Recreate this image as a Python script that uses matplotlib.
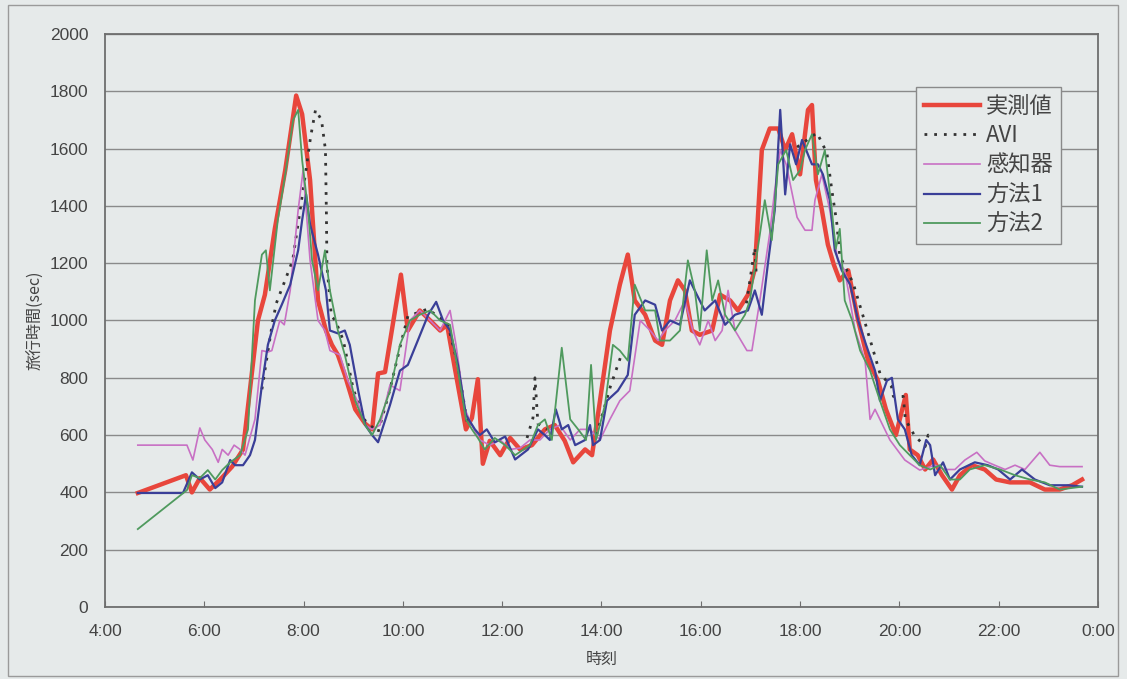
import numpy as np
import matplotlib
matplotlib.use("Agg")
import matplotlib.pyplot as plt
from matplotlib.patches import Rectangle

plt.rcParams['font.family'] = ['Liberation Sans', 'Noto Sans CJK JP', 'DejaVu Sans']

# time of day in hours, travel time in seconds
red_t = [4.66, 5.63, 5.75, 5.91, 6.11, 6.32, 6.56, 6.78, 6.92, 7.08, 7.22, 7.42, 7.63, 7.85, 7.97,
         8.13, 8.29, 8.45, 8.57, 8.69, 8.83, 9.04, 9.24, 9.38, 9.50, 9.64, 9.96, 10.10, 10.34, 10.55,
         10.75, 10.89, 11.05, 11.27, 11.39, 11.51, 11.61, 11.75, 11.96, 12.16, 12.36, 12.60, 12.86,
         13.06, 13.26, 13.43, 13.67, 13.81, 13.97, 14.17, 14.37, 14.53, 14.67, 14.88, 15.08, 15.22,
         15.38, 15.54, 15.68, 15.82, 15.98, 16.23, 16.39, 16.59, 16.75, 16.95, 17.09, 17.23, 17.39,
         17.56, 17.70, 17.84, 18.00, 18.16, 18.24, 18.32, 18.44, 18.56, 18.68, 18.80, 18.97, 19.17,
         19.37, 19.57, 19.73, 19.93, 20.13, 20.21, 20.37, 20.52, 20.68, 20.86, 21.06, 21.22, 21.46,
         21.72, 21.95, 22.23, 22.63, 22.93, 23.23, 23.48, 23.68]
red_v = [398, 460, 400, 450, 410, 445, 490, 550, 760, 1000, 1090, 1320, 1525, 1785, 1720,
         1490, 1070, 965, 915, 880, 810, 690, 640, 620, 815, 820, 1160, 965, 1035, 1000,
         965, 985, 830, 620, 660, 795, 500, 580, 530, 590, 550, 565, 620,
         635, 580, 505, 550, 530, 720, 965, 1125, 1230, 1070, 1020, 930, 915,
         1070, 1140, 1105, 965, 950, 965, 1090, 1070, 1035, 1090, 1180, 1595, 1670,
         1670, 1595, 1650, 1510, 1735, 1752, 1490, 1385, 1265, 1195, 1140, 1175, 1000,
         860, 790, 690, 600, 740, 550, 530, 480, 515, 460, 410, 460, 495,
         480, 445, 435, 435, 410, 410, 425, 445]

avi_t = [7.16, 7.38, 7.45, 7.78, 8.04, 8.14, 8.24, 8.36, 8.44, 8.46, 8.47, 8.56, 8.64, 8.80, 9.00,
         9.24, 9.50, 9.74, 9.96, 10.10, 10.50, 10.90, 11.10, 11.30, 11.31,
         12.50, 12.62, 12.66, 12.72, 12.90, 12.91,
         13.90, 14.18, 14.40, 14.41,
         16.92, 17.09, 17.12, 17.13,
         17.94, 18.14, 18.34, 18.54, 18.64, 18.74, 18.80, 19.07, 19.27, 19.45, 19.61, 19.84,
         19.88, 20.08, 20.12, 20.30, 20.52, 20.58, 20.64]
avi_v = [760, 1000, 1060, 1210, 1515, 1640, 1735, 1700, 1595, 1360, 1190, 1015, 1000, 930, 760,
         650, 610, 760, 920, 1015, 1040, 990, 850, 640, np.nan,
         590, 660, 800, 640, 620, np.nan,
         600, 770, 880, np.nan,
         1060, 1255, 1150, np.nan,
         1605, 1630, 1655, 1585, 1455, 1340, 1225, 1130, 1015, 910, 815, 770,
         735, 735, 655, 600, 560, 600, 595]

det_t = [4.66, 5.65, 5.77, 5.91, 6.01, 6.16, 6.28, 6.36, 6.48, 6.60, 6.72, 6.82, 7.02, 7.16, 7.28,
         7.36, 7.52, 7.61, 7.73, 7.89, 7.99, 8.13, 8.29, 8.43, 8.53, 8.73, 8.89, 9.08, 9.24, 9.38,
         9.54, 9.74, 9.94, 10.14, 10.34, 10.55, 10.75, 10.95, 11.07, 11.25, 11.39, 11.55, 11.75,
         11.96, 12.16, 12.36, 12.56, 12.76, 12.96, 13.16, 13.37, 13.57, 13.77, 13.97, 14.17, 14.37,
         14.57, 14.78, 14.98, 15.14, 15.28, 15.48, 15.68, 15.84, 15.98, 16.15, 16.29, 16.43, 16.55,
         16.69, 16.93, 17.03, 17.19, 17.39, 17.49, 17.60, 17.72, 17.94, 18.10, 18.24, 18.30, 18.44,
         18.60, 18.76, 18.90, 19.11, 19.31, 19.41, 19.51, 19.81, 20.11, 20.41, 20.72, 20.92, 21.12,
         21.32, 21.56, 21.72, 21.92, 22.13, 22.33, 22.53, 22.83, 23.03, 23.23, 23.68]
det_v = [565, 565, 513, 625, 583, 550, 505, 550, 530, 565, 550, 530, 655, 895, 890,
         895, 1000, 985, 1105, 1385, 1525, 1210, 1000, 965, 895, 880, 790, 720, 635, 620,
         635, 775, 755, 1000, 1035, 1000, 965, 1035, 915, 690, 635, 583, 565,
         583, 550, 555, 583, 583, 620, 635, 583, 620, 620, 583, 655, 720,
         755, 1000, 965, 930, 965, 1000, 1070, 965, 915, 1000, 930, 965, 1105,
         965, 895, 895, 1070, 1305, 1455, 1595, 1545, 1360, 1315, 1315, 1420, 1510,
         1385, 1210, 1175, 965, 860, 655, 690, 583, 513, 478, 495, 480, 480,
         513, 540, 510, 495, 480, 495, 480, 540, 495, 490, 490]

m1_t = [4.66, 5.57, 5.75, 5.91, 6.07, 6.22, 6.36, 6.52, 6.62, 6.78, 6.92, 7.02, 7.16, 7.28, 7.42,
        7.56, 7.73, 7.89, 7.97, 8.05, 8.13, 8.29, 8.45, 8.53, 8.69, 8.83, 8.93, 9.10, 9.24, 9.38,
        9.50, 9.74, 9.94, 10.10, 10.30, 10.51, 10.67, 10.81, 10.95, 11.11, 11.27, 11.45, 11.55,
        11.69, 11.85, 12.06, 12.26, 12.52, 12.72, 12.86, 12.96, 13.08, 13.20, 13.33, 13.47, 13.67,
        13.77, 13.83, 13.97, 14.11, 14.33, 14.53, 14.67, 14.88, 15.08, 15.22, 15.38, 15.58, 15.78,
        15.92, 16.08, 16.29, 16.49, 16.69, 16.95, 17.09, 17.23, 17.35, 17.49, 17.60, 17.70, 17.80,
        17.92, 18.04, 18.24, 18.36, 18.46, 18.60, 18.70, 18.84, 19.01, 19.17, 19.33, 19.51, 19.61,
        19.75, 19.85, 19.97, 20.11, 20.25, 20.41, 20.54, 20.62, 20.72, 20.88, 21.02, 21.22, 21.52,
        21.78, 21.99, 22.23, 22.47, 22.73, 23.03, 23.40, 23.68]
m1_v = [398, 398, 470, 445, 460, 415, 435, 513, 495, 495, 530, 583, 775, 915, 1000,
        1055, 1125, 1245, 1350, 1440, 1335, 1230, 1105, 965, 955, 965, 915, 755, 635, 600,
        575, 705, 825, 845, 930, 1020, 1065, 1000, 965, 845, 670, 620, 600,
        620, 575, 595, 515, 550, 620, 600, 583, 690, 620, 635, 565, 583,
        635, 565, 583, 720, 755, 810, 1020, 1070, 1055, 965, 1000, 985, 1140,
        1090, 1035, 1070, 985, 1020, 1035, 1105, 1020, 1195, 1385, 1735, 1440, 1615,
        1545, 1630, 1545, 1545, 1510, 1420, 1245, 1175, 1125, 1000, 915, 825, 720,
        790, 800, 655, 620, 530, 495, 583, 565, 460, 505, 445, 480, 505,
        495, 480, 445, 480, 445, 425, 425, 420]

m2_t = [4.66, 5.65, 5.75, 5.91, 6.07, 6.22, 6.36, 6.52, 6.72, 6.88, 7.02, 7.16, 7.24, 7.32, 7.48,
        7.63, 7.79, 7.89, 7.97, 8.09, 8.17, 8.29, 8.43, 8.53, 8.69, 8.83, 9.04, 9.24, 9.38, 9.54,
        9.74, 9.94, 10.14, 10.34, 10.55, 10.75, 10.95, 11.11, 11.27, 11.39, 11.51, 11.65, 11.85,
        12.06, 12.26, 12.56, 12.72, 12.86, 13.00, 13.20, 13.37, 13.53, 13.69, 13.79, 13.89, 14.07,
        14.23, 14.37, 14.53, 14.67, 14.88, 15.08, 15.18, 15.38, 15.58, 15.74, 15.88, 15.98, 16.12,
        16.23, 16.35, 16.49, 16.69, 16.89, 16.99, 17.19, 17.29, 17.43, 17.56, 17.72, 17.86, 18.00,
        18.10, 18.24, 18.36, 18.50, 18.64, 18.72, 18.80, 18.90, 19.05, 19.21, 19.41, 19.61, 19.81,
        20.01, 20.21, 20.41, 20.62, 20.82, 21.02, 21.22, 21.42, 21.72, 22.03, 22.33, 22.63, 22.93,
        23.23, 23.68]
m2_v = [272, 408, 460, 450, 478, 445, 478, 505, 530, 620, 1070, 1230, 1245, 1105, 1350,
        1510, 1700, 1735, 1560, 1385, 1210, 1105, 1245, 1105, 965, 880, 720, 635, 600, 655,
        755, 915, 1000, 1020, 1035, 1000, 985, 825, 655, 620, 590, 550, 590,
        565, 530, 565, 635, 655, 583, 905, 655, 620, 583, 845, 583, 705,
        915, 895, 860, 1125, 1035, 1035, 930, 930, 965, 1210, 1105, 965, 1245,
        1070, 1140, 1020, 965, 1020, 1070, 1300, 1420, 1280, 1545, 1595, 1490, 1525,
        1595, 1650, 1510, 1595, 1385, 1250, 1320, 1070, 1000, 895, 825, 720, 620,
        565, 530, 495, 480, 495, 445, 445, 480, 495, 480, 460, 445, 435,
        410, 420]

bg = '#e6eaea'
fig = plt.figure(figsize=(11.27, 6.79), dpi=100, facecolor=bg)
ax = fig.add_axes([0.0932, 0.106, 0.881, 0.844], facecolor=bg)

ax.plot(red_t, red_v, color='#e8463c', lw=3.2, label='実測値', zorder=3)
ax.plot(avi_t, avi_v, color='#333333', lw=2.0, linestyle=(0, (1, 2.5)), label='AVI', zorder=4)
ax.plot(det_t, det_v, color='#c870c4', lw=1.2, label='感知器', zorder=5)
ax.plot(m1_t, m1_v, color='#3a3f98', lw=1.6, label='方法1', zorder=6)
ax.plot(m2_t, m2_v, color='#4f9a5e', lw=1.3, label='方法2', zorder=7)

ax.set_xlim(4, 24)
ax.set_ylim(0, 2000)
ax.set_xticks(np.arange(4, 25, 2))
ax.set_xticklabels([f"{int(h) % 24}:00" for h in np.arange(4, 25, 2)])
ax.set_yticks(np.arange(0, 2001, 200))
ax.yaxis.grid(True, color='#8a8a8a', lw=1.0)
ax.set_axisbelow(True)
for s in ax.spines.values():
    s.set_color('#6e6e6e')
    s.set_linewidth(1.3)
ax.tick_params(axis='x', direction='in', length=4, color='#6e6e6e', pad=12,
               labelsize=12.5, labelcolor='#444444')
ax.tick_params(axis='y', length=0, pad=12, labelsize=12.5, labelcolor='#444444')

ax.set_xlabel('時刻', fontsize=11.5, color='#444444', labelpad=9,
              family=['Noto Sans CJK JP', 'DejaVu Sans'])
ax.set_ylabel('旅行時間(sec)', fontsize=11.5, color='#444444', labelpad=4,
              family=['Noto Sans CJK JP', 'DejaVu Sans'])

leg = ax.legend(loc='upper left', bbox_to_anchor=(0.817, 0.908), fontsize=16,
                handlelength=2.5, handletextpad=0.3, labelspacing=0.3,
                borderpad=0.35, borderaxespad=0, fancybox=False, framealpha=1,
                facecolor=bg, edgecolor='#8a8a8a')
leg.get_frame().set_linewidth(1.0)
for txt in leg.get_texts():
    txt.set_color('#444444')
    txt.set_family(['Noto Sans CJK JP', 'DejaVu Sans'])

fig.patches.append(Rectangle((8 / 1127, 3 / 679), 1110 / 1127, 671 / 679, transform=fig.transFigure,
                             fill=False, edgecolor='#9a9a9a', lw=1.0))

fig.savefig('out.png', dpi=100, facecolor=bg)
